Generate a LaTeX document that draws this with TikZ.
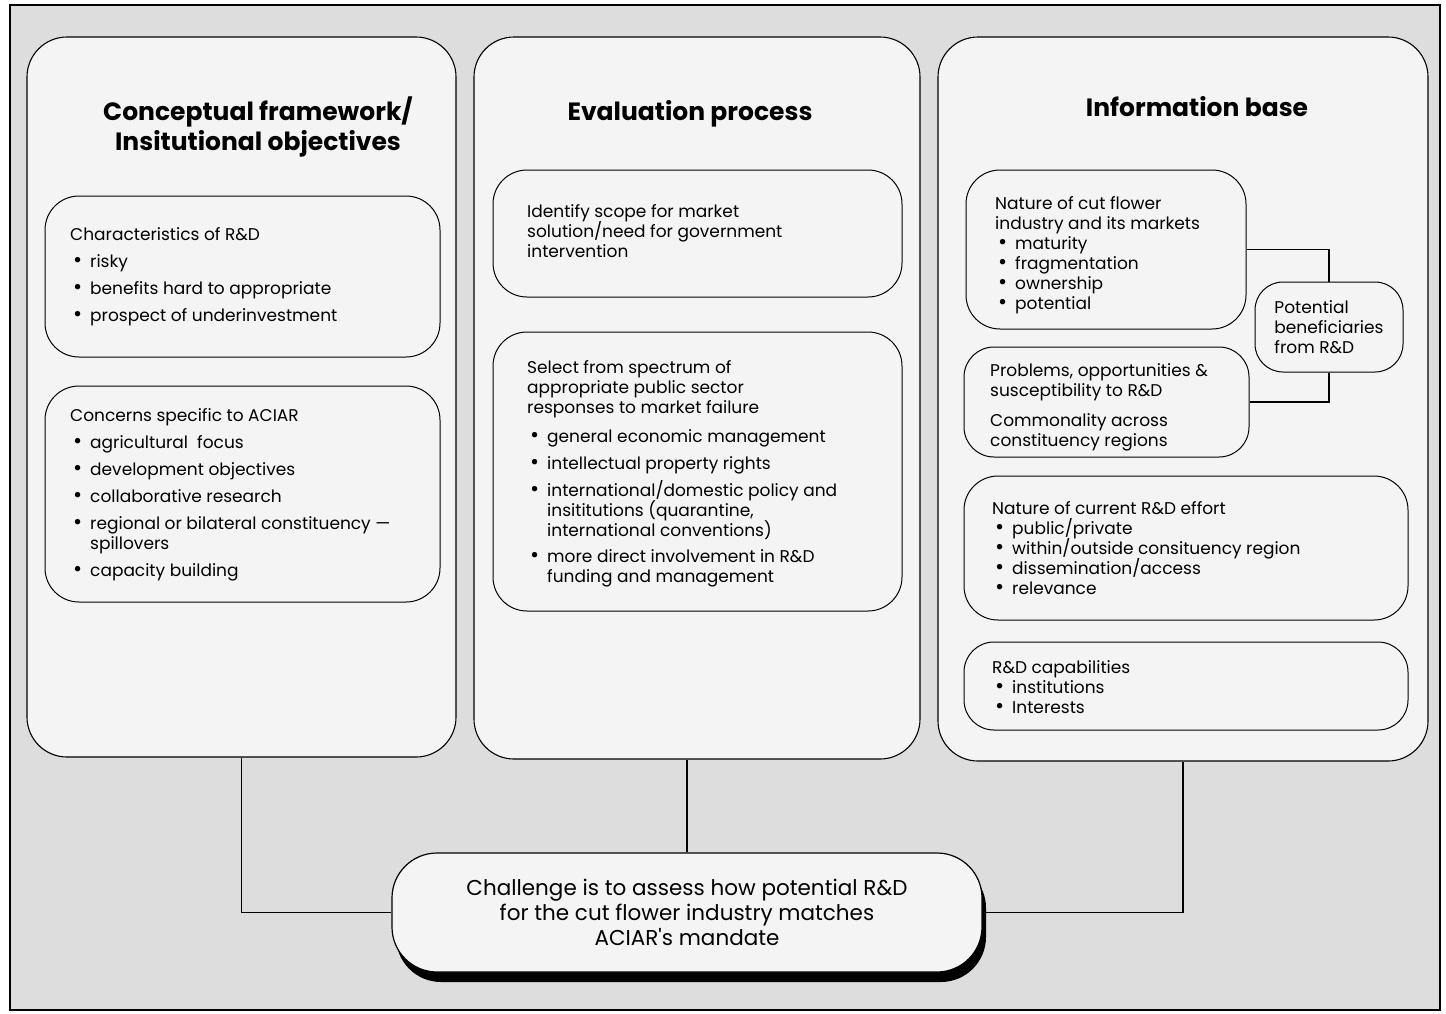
\documentclass[tikz,border=0pt]{standalone}
\usepackage{fontspec}
\setmainfont{Poppins}[Ligatures=TeXOff]
\usetikzlibrary{shadows}
\definecolor{bgc}{RGB}{221,221,221}
\definecolor{panelc}{RGB}{244,244,244}
\newcommand\bl{\makebox[20pt][l]{\hspace{3pt}\scalebox{1.3}{\textbullet}}}
\newcommand\ind{\hspace*{20pt}}
\newcommand\bodyfont{\fontsize{17}{20}\selectfont}
\begin{document}
\setlength{\lineskiplimit}{-30pt}
\begin{tikzpicture}[x=1pt,y=-1pt,
  panel/.style={draw=black, line width=1.1pt, fill=panelc, rounded corners=40pt, inner sep=0pt},
  subbox/.style={draw=black, line width=1pt, fill=panelc, rounded corners=34pt, inner sep=0pt},
  txt/.style={anchor=north west, inner sep=0pt, align=left, font=\bodyfont},
  ttl/.style={anchor=north, inner sep=0pt, align=center, font=\fontsize{25}{30}\selectfont\bfseries},
  conn/.style={draw=black, line width=1.1pt},
]
\useasboundingbox (0,0) rectangle (1446,1013);
\fill[white] (0,0) rectangle (1446,1013);
\fill[bgc] (10,5) rectangle (1440,1010);
\draw[line width=1.2pt] (10,5) rectangle (1440,1010);

% panels
\node[panel, minimum width=429pt, minimum height=720pt] (p1) at (241.5,397) {};
\node[panel, minimum width=446pt, minimum height=722pt] (p2) at (697,398) {};
\node[panel, minimum width=490pt, minimum height=724pt] (p3) at (1183,399) {};

% titles
\node[ttl] (t1) at (258,97) {\strut Conceptual framework/\\Insitutional objectives};
\node[ttl] (t2) at (690,99) {\strut Evaluation process};
\node[ttl] (t3) at (1197,95) {\strut Information base};

% left panel boxes
\node[subbox, minimum width=395pt, minimum height=161pt] (b1a) at (242.5,276.5) {};
\node[subbox, minimum width=395pt, minimum height=216pt] (b1b) at (242.5,494) {};
\node[txt] (x1a) at (70,226) {\strut Characteristics of R\&D\\[7pt]
  \bl risky\\[7pt]
  \bl benefits hard to appropriate\\[7pt]
  \bl prospect of underinvestment};
\node[txt] (x1b) at (70,407) {\strut Concerns specific to ACIAR\\[7pt]
  \bl agricultural\ \ focus\\[7pt]
  \bl development objectives\\[7pt]
  \bl collaborative research\\[7pt]
  \bl regional or bilateral constituency —\\
  \ind spillovers\\[7pt]
  \bl capacity building};

% centre panel boxes
\node[subbox, minimum width=409pt, minimum height=127pt] (b2a) at (697.5,233.5) {};
\node[subbox, minimum width=409pt, minimum height=279pt] (b2b) at (697.5,471.5) {};
\node[txt] (x2a) at (527,203) {\strut Identify scope for market\\
  solution/need for government\\
  intervention};
\node[txt] (x2b) at (527,359) {\strut Select from spectrum of\\
  appropriate public sector\\
  responses to market failure\\[9pt]
  \bl general economic management\\[7pt]
  \bl intellectual property rights\\[7pt]
  \bl international/domestic policy and\\
  \ind insititutions (quarantine,\\
  \ind international conventions)\\[6pt]
  \bl more direct involvement in R\&D\\
  \ind funding and management};

% right panel boxes
\node[subbox, minimum width=280pt, minimum height=159pt] (b3a) at (1106,249.5) {};
\node[subbox, minimum width=285pt, minimum height=110pt, rounded corners=30pt] (b3b) at (1106.5,402) {};
\node[subbox, minimum width=148pt, minimum height=90pt, rounded corners=28pt, align=left, font=\bodyfont] (b3c) at (1329,327) {Potential\\beneficiaries\\from R\&D};
\node[subbox, minimum width=444pt, minimum height=144pt] (b3d) at (1186,548) {};
\node[subbox, minimum width=444pt, minimum height=88pt, rounded corners=30pt] (b3e) at (1186,686) {};
\node[txt] (x3a) at (995,195) {\strut Nature of cut flower\\
  industry and its markets\\
  \bl maturity\\
  \bl fragmentation\\
  \bl ownership\\
  \bl potential};
\node[txt] (x3b) at (990,362) {\strut Problems, opportunities \&\\
  susceptibility to R\&D\\[10pt]
  Commonality across\\
  constituency regions};
\node[txt] (x3d) at (992,500) {\strut Nature of current R\&D effort\\
  \bl public/private\\
  \bl within/outside consituency region\\
  \bl dissemination/access\\
  \bl relevance};
\node[txt] (x3e) at (992,659) {\strut R\&D capabilities\\
  \bl institutions\\
  \bl Interests};

% connectors to beneficiaries
\draw[conn] (b3a.east) -| (b3c.north);
\draw[conn] (b3c.south) |- (b3b.east);

% bottom box
\node[draw=black, line width=1.2pt, fill=panelc, rounded corners=45pt,
  minimum width=590pt, minimum height=119pt, align=center,
  font=\fontsize{21.5}{25}\selectfont,
  drop shadow={shadow xshift=4pt, shadow yshift=-10pt, fill=black, opacity=1}] (bot) at (687,912.5)
  {Challenge is to assess how potential R\&D\\for the cut flower industry matches\\ACIAR's mandate};

\draw[conn] (p1.south) |- (bot.west);
\draw[conn] (bot.north) -- (bot.north |- p2.south);
\draw[conn] (p3.south) |- (bot.east);
\end{tikzpicture}
\end{document}
